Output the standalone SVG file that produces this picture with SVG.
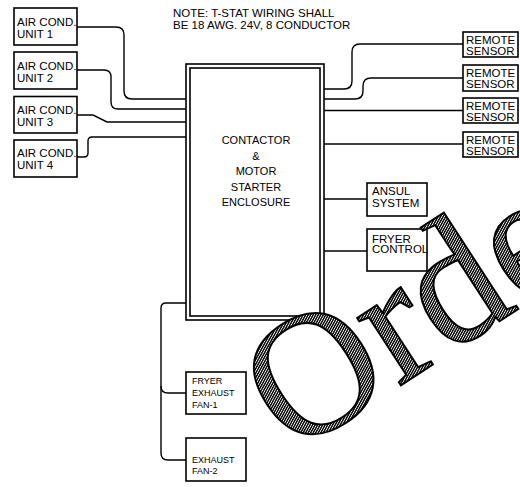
<svg xmlns="http://www.w3.org/2000/svg" width="520" height="487" viewBox="0 0 520 487">
<defs>
<style>
.box{fill:#fff;stroke:#000;stroke-width:1.6}
.w{fill:none;stroke:#000;stroke-width:1.4}
.t{font-family:"Liberation Sans",Arial,sans-serif;font-size:11.5px;fill:#000}
.s{font-size:9px}
.n{font-size:11px}
.nt{font-size:11.5px}
</style>
<pattern id="hatch" patternUnits="userSpaceOnUse" width="10" height="2.2" patternTransform="rotate(-28)">
<rect width="10" height="2.2" fill="#fff"/>
<rect width="10" height="1.4" fill="#000"/>
</pattern>
</defs>
<rect width="520" height="487" fill="#fff"/>
<g id="note"><text class="t nt" x="173" y="17">NOTE: T-STAT WIRING SHALL</text><text class="t nt" x="173" y="28.5">BE 18 AWG. 24V, 8 CONDUCTOR</text></g>
<g id="connectors">
<path class="w" d="M77,27 H116 Q124,27 124,35 V91 Q124,99 132,99 H186"/>
<path class="w" d="M77,70 H104 Q111,70 111,77 V102 Q111,109 118,109 H186"/>
<path class="w" d="M77,115 H93 L107,122 H186"/>
<path class="w" d="M77,157 H84 Q88,157 88,153 V141 Q88,137 92,137 H186"/>
<path class="w" d="M324,89 H344 Q352,89 352,81 V52 Q352,44 360,44 H463"/>
<path class="w" d="M324,99 H355 Q363,99 363,91 V86 Q363,78 371,78 H463"/>
<path class="w" d="M324,110.5 H463"/>
<path class="w" d="M324,144 H463"/>
<path class="w" d="M324,199 H367"/>
<path class="w" d="M324,251 H367"/>
<path class="w" d="M186,303 H166 Q161,303 161,308 V386 Q161,393 168,393 H186"/>
<path class="w" d="M161,386 V453 Q161,460 168,460 H186"/>
</g>
<g id="ac1"><rect class="box" x="14" y="8" width="63" height="37"/><text class="t" x="17" y="25.5">AIR COND.</text><text class="t" x="17" y="37.5">UNIT 1</text></g>
<g id="ac2"><rect class="box" x="14" y="52" width="63" height="37"/><text class="t" x="17" y="69.5">AIR COND.</text><text class="t" x="17" y="81.5">UNIT 2</text></g>
<g id="ac3"><rect class="box" x="14" y="96.5" width="63" height="36.5"/><text class="t" x="17" y="114">AIR COND.</text><text class="t" x="17" y="125.5">UNIT 3</text></g>
<g id="ac4"><rect class="box" x="14" y="140" width="63" height="37"/><text class="t" x="17" y="157">AIR COND.</text><text class="t" x="17" y="168.5">UNIT 4</text></g>
<g id="enclosure">
<rect class="box" x="186" y="64" width="138" height="256"/>
<rect class="box" x="190" y="68" width="130" height="248"/>
<g class="t n" text-anchor="middle">
<text x="256" y="144">CONTACTOR</text>
<text x="256" y="160">&amp;</text>
<text x="256" y="175">MOTOR</text>
<text x="256" y="191">STARTER</text>
<text x="256" y="206">ENCLOSURE</text>
</g>
</g>
<g id="rs1"><rect class="box" x="463" y="32" width="55" height="25"/><text class="t" x="466" y="43.5">REMOTE</text><text class="t" x="466" y="54.5">SENSOR</text></g>
<g id="rs2"><rect class="box" x="463" y="65" width="55" height="26"/><text class="t" x="466" y="76.5">REMOTE</text><text class="t" x="466" y="87.5">SENSOR</text></g>
<g id="rs3"><rect class="box" x="463" y="98" width="55" height="25"/><text class="t" x="466" y="109.5">REMOTE</text><text class="t" x="466" y="120.5">SENSOR</text></g>
<g id="rs4"><rect class="box" x="463" y="132" width="55" height="25"/><text class="t" x="466" y="143.5">REMOTE</text><text class="t" x="466" y="154.5">SENSOR</text></g>
<g id="ansul"><rect class="box" x="367" y="183" width="60" height="33"/><text class="t" x="372" y="195">ANSUL</text><text class="t" x="372" y="206.5">SYSTEM</text></g>
<g id="fryer-control"><rect class="box" x="367" y="229" width="60" height="42"/><text class="t" x="372" y="242.5">FRYER</text><text class="t" x="372" y="253">CONTROL</text></g>
<g id="fan1"><rect class="box" x="186" y="372" width="60" height="42"/><text class="t s" x="192" y="384">FRYER</text><text class="t s" x="192" y="396">EXHAUST</text><text class="t s" x="192" y="407.5">FAN-1</text></g>
<g id="fan2"><rect class="box" x="186" y="438" width="60" height="43"/><text class="t s" x="192" y="463">EXHAUST</text><text class="t s" x="192" y="474">FAN-2</text></g>
<text id="watermark" x="0" y="0" transform="translate(292,456) rotate(-33)" font-family="Liberation Serif,Times New Roman,serif" font-size="175" fill="url(#hatch)" stroke="#000" stroke-width="2">Orde</text>
</svg>
